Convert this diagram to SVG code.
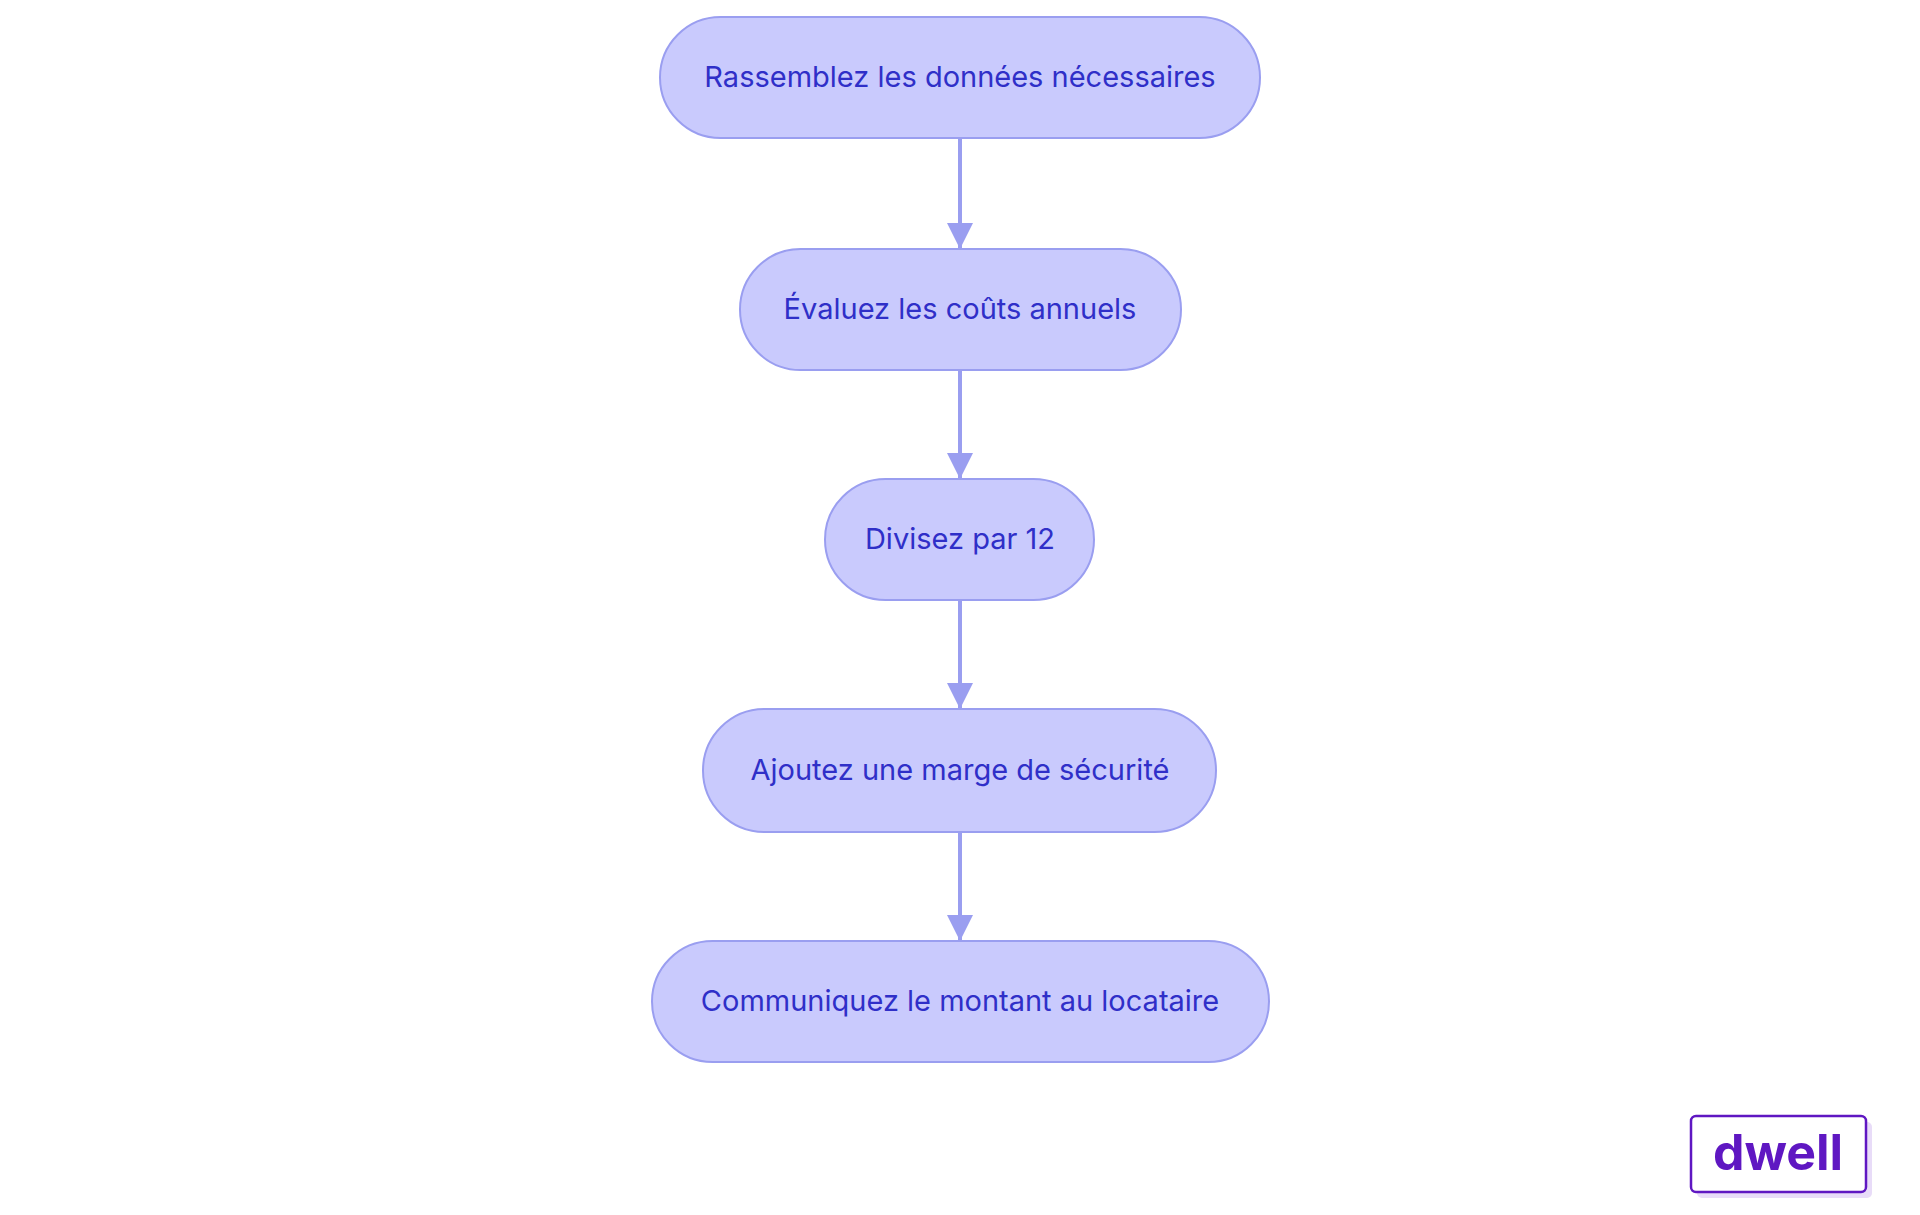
<svg xmlns="http://www.w3.org/2000/svg" width="1920" height="1215" viewBox="0 0 1920 1215">
<style>
.n rect{fill:#c9cafd;stroke:#9a9ef0;stroke-width:2}
.n text{font-family:Inter,"Noto Sans",sans-serif;font-size:29px;fill:#2f2fc8;text-anchor:middle;dominant-baseline:central}
.e{stroke:#9a9ef0;stroke-width:4;fill:none;marker-end:url(#a)}
</style>
<defs><marker id="a" markerWidth="26" markerHeight="26" refX="13" refY="26" orient="0" markerUnits="userSpaceOnUse" viewBox="0 0 26 26"><path d="M0,0 L26,0 L13,26 Z" fill="#9a9ef0"/></marker></defs>
<rect width="1920" height="1215" fill="#fff"/>
<g id="edges">
<line class="e" x1="960" y1="138" x2="960" y2="249"/>
<line class="e" x1="960" y1="370" x2="960" y2="479"/>
<line class="e" x1="960" y1="600" x2="960" y2="709"/>
<line class="e" x1="960" y1="832" x2="960" y2="941"/>
</g>
<g id="n1" class="n"><rect x="660" y="17" width="600" height="121" rx="60.5"/><text x="960" y="76">Rassemblez les données nécessaires</text></g>
<g id="n2" class="n"><rect x="740" y="249" width="441" height="121" rx="60.5"/><text x="960" y="308">Évaluez les coûts annuels</text></g>
<g id="n3" class="n"><rect x="825" y="479" width="269" height="121" rx="60.5"/><text x="960" y="538">Divisez par 12</text></g>
<g id="n4" class="n"><rect x="703" y="709" width="513" height="123" rx="61.5"/><text x="960" y="769">Ajoutez une marge de sécurité</text></g>
<g id="n5" class="n"><rect x="652" y="941" width="617" height="121" rx="60.5"/><text x="960" y="1000">Communiquez le montant au locataire</text></g>
<g id="logo">
<rect x="1697" y="1122" width="175" height="76" rx="5" fill="#e8dcf8"/>
<rect x="1691" y="1116" width="175" height="76" rx="5" fill="#fff" stroke="#5f17c2" stroke-width="2.5"/>
<text x="1778" y="1170" font-family="Inter,'Noto Sans',sans-serif" font-weight="bold" font-size="50" fill="#5f17c2" text-anchor="middle">dwell</text>
</g>
</svg>
